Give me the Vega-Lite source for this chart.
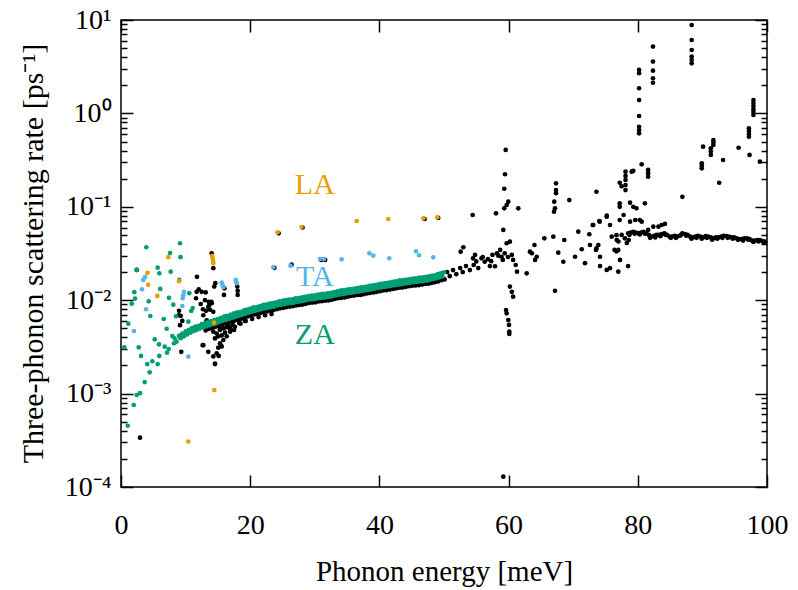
{
"$schema": "https://vega.github.io/schema/vega-lite/v6.json",
"width": 646, "height": 467,
"autosize": {"type": "none"},
"padding": {"left": 121, "top": 20, "right": 31, "bottom": 103},
"background": "white",
"config": {"view": {"stroke": "#000", "strokeWidth": 1.5}, "font": "Liberation Serif"},
"datasets": {
"pts": [
{"e":2.43,"r":0.0211,"b":"k"},{"e":2.94,"r":0.000337,"b":"k"},{"e":11.76,"r":0.0178,"b":"k"},{"e":12.03,"r":0.0131,"b":"k"},{"e":11.72,"r":0.0123,"b":"k"},{"e":13.11,"r":0.0121,"b":"k"},{"e":11.61,"r":0.0105,"b":"k"},{"e":12.34,"r":0.0091,"b":"k"},{"e":13.58,"r":0.0096,"b":"k"},{"e":13.98,"r":0.0096,"b":"k"},{"e":13.67,"r":0.0089,"b":"k"},{"e":8.98,"r":0.0077,"b":"k"},{"e":8.93,"r":0.0069,"b":"k"},{"e":9.24,"r":0.0068,"b":"k"},{"e":12.69,"r":0.008,"b":"k"},{"e":13.16,"r":0.0077,"b":"k"},{"e":13.78,"r":0.0079,"b":"k"},{"e":9.49,"r":0.006,"b":"k"},{"e":9.13,"r":0.0054,"b":"k"},{"e":14.04,"r":0.0318,"b":"k"},{"e":14.29,"r":0.022,"b":"k"},{"e":14.6,"r":0.0152,"b":"k"},{"e":14.44,"r":0.014,"b":"k"},{"e":16.0,"r":0.0134,"b":"k"},{"e":15.94,"r":0.0114,"b":"k"},{"e":18.0,"r":0.014,"b":"k"},{"e":18.06,"r":0.0126,"b":"k"},{"e":18.06,"r":0.0114,"b":"k"},{"e":9.33,"r":0.0028,"b":"k"},{"e":12.65,"r":0.0033,"b":"k"},{"e":13.51,"r":0.0028,"b":"k"},{"e":14.55,"r":0.00207,"b":"k"},{"e":15.12,"r":0.00253,"b":"k"},
{"e":12.49,"r":0.0123,"b":"k"},{"e":13.0,"r":0.01,"b":"k"},{"e":13.51,"r":0.0085,"b":"k"},{"e":14.04,"r":0.0093,"b":"k"},{"e":14.29,"r":0.0075,"b":"k"},{"e":12.74,"r":0.0069,"b":"k"},{"e":13.27,"r":0.0061,"b":"k"},{"e":13.78,"r":0.0054,"b":"k"},{"e":14.29,"r":0.0046,"b":"k"},{"e":14.81,"r":0.0044,"b":"k"},{"e":15.33,"r":0.0048,"b":"k"},{"e":15.84,"r":0.005,"b":"k"},{"e":16.61,"r":0.0054,"b":"k"},{"e":17.38,"r":0.0059,"b":"k"},{"e":18.16,"r":0.0061,"b":"k"},{"e":14.55,"r":0.0039,"b":"k"},{"e":15.06,"r":0.0041,"b":"k"},{"e":15.59,"r":0.0042,"b":"k"},{"e":16.1,"r":0.0045,"b":"k"},{"e":15.33,"r":0.00345,"b":"k"},{"e":15.84,"r":0.00375,"b":"k"},{"e":16.36,"r":0.0041,"b":"k"},{"e":15.06,"r":0.0031,"b":"k"},{"e":15.59,"r":0.0032,"b":"k"},{"e":14.81,"r":0.0027,"b":"k"},{"e":14.29,"r":0.0025,"b":"k"},{"e":14.55,"r":0.0021,"b":"k"},{"e":12.74,"r":0.0033,"b":"k"},{"e":14.81,"r":0.0054,"b":"k"},{"e":16.87,"r":0.005,"b":"k"},{"e":17.65,"r":0.0052,"b":"k"},{"e":16.9,"r":0.0046,"b":"k"},{"e":17.5,"r":0.0048,"b":"k"},{"e":18.5,"r":0.0056,"b":"k"},{"e":19.2,"r":0.006,"b":"k"},
{"e":24.4,"r":0.052,"b":"k"},{"e":28.1,"r":0.06,"b":"k"},{"e":47.0,"r":0.074,"b":"k"},{"e":49.1,"r":0.076,"b":"k"},{"e":23.75,"r":0.0222,"b":"k"},{"e":26.4,"r":0.024,"b":"k"},{"e":31.0,"r":0.027,"b":"k"},{"e":31.6,"r":0.027,"b":"k"},
{"e":13.1,"r":0.00475,"b":"k"},{"e":13.6,"r":0.00493,"b":"k"},{"e":14.1,"r":0.00502,"b":"k"},{"e":14.6,"r":0.00519,"b":"k"},{"e":15.1,"r":0.00528,"b":"k"},{"e":15.6,"r":0.00546,"b":"k"},{"e":16.1,"r":0.00563,"b":"k"},{"e":16.6,"r":0.00572,"b":"k"},{"e":17.1,"r":0.0059,"b":"k"},{"e":17.6,"r":0.00607,"b":"k"},{"e":18.1,"r":0.00625,"b":"k"},{"e":18.6,"r":0.00634,"b":"k"},{"e":19.1,"r":0.00651,"b":"k"},{"e":19.6,"r":0.00669,"b":"k"},{"e":20.1,"r":0.00686,"b":"k"},{"e":20.6,"r":0.00704,"b":"k"},{"e":21.1,"r":0.00713,"b":"k"},{"e":21.6,"r":0.0073,"b":"k"},{"e":22.1,"r":0.00748,"b":"k"},{"e":22.6,"r":0.00757,"b":"k"},{"e":23.1,"r":0.00774,"b":"k"},{"e":23.6,"r":0.00783,"b":"k"},{"e":24.1,"r":0.00801,"b":"k"},{"e":24.6,"r":0.00818,"b":"k"},{"e":25.1,"r":0.00827,"b":"k"},{"e":25.6,"r":0.00845,"b":"k"},{"e":26.1,"r":0.00854,"b":"k"},{"e":26.6,"r":0.00862,"b":"k"},{"e":27.1,"r":0.0088,"b":"k"},{"e":27.6,"r":0.00889,"b":"k"},{"e":28.1,"r":0.00898,"b":"k"},{"e":28.6,"r":0.00915,"b":"k"},{"e":29.1,"r":0.00933,"b":"k"},{"e":29.6,"r":0.00942,"b":"k"},{"e":30.1,"r":0.0095,"b":"k"},{"e":30.6,"r":0.00968,"b":"k"},{"e":31.1,"r":0.00977,"b":"k"},{"e":31.6,"r":0.00986,"b":"k"},{"e":32.1,"r":0.00994,"b":"k"},{"e":32.6,"r":0.0101,"b":"k"},{"e":33.1,"r":0.0103,"b":"k"},{"e":33.6,"r":0.0105,"b":"k"},{"e":34.1,"r":0.0106,"b":"k"},{"e":34.6,"r":0.0107,"b":"k"},{"e":35.1,"r":0.0109,"b":"k"},{"e":35.6,"r":0.0111,"b":"k"},{"e":36.1,"r":0.0112,"b":"k"},{"e":36.6,"r":0.0114,"b":"k"},{"e":37.1,"r":0.0114,"b":"k"},{"e":37.6,"r":0.0116,"b":"k"},{"e":38.1,"r":0.0118,"b":"k"},{"e":38.6,"r":0.012,"b":"k"},{"e":39.1,"r":0.0121,"b":"k"},{"e":39.6,"r":0.0123,"b":"k"},{"e":40.1,"r":0.0125,"b":"k"},{"e":40.6,"r":0.0127,"b":"k"},{"e":41.1,"r":0.0128,"b":"k"},{"e":41.6,"r":0.013,"b":"k"},{"e":42.1,"r":0.0132,"b":"k"},{"e":42.6,"r":0.0134,"b":"k"},{"e":43.1,"r":0.0136,"b":"k"},{"e":43.6,"r":0.0137,"b":"k"},{"e":44.1,"r":0.0139,"b":"k"},{"e":44.6,"r":0.0141,"b":"k"},{"e":45.1,"r":0.0143,"b":"k"},{"e":45.6,"r":0.0144,"b":"k"},{"e":46.1,"r":0.0145,"b":"k"},{"e":46.6,"r":0.0147,"b":"k"},{"e":47.1,"r":0.0149,"b":"k"},{"e":47.6,"r":0.015,"b":"k"},{"e":48.1,"r":0.0153,"b":"k"},{"e":48.6,"r":0.0156,"b":"k"},{"e":49.1,"r":0.0159,"b":"k"},{"e":49.6,"r":0.0164,"b":"k"},{"e":50.1,"r":0.0167,"b":"k"},
{"e":15.3,"r":0.0049,"b":"k"},{"e":16.3,"r":0.0051,"b":"k"},{"e":17.3,"r":0.0054,"b":"k"},{"e":18.3,"r":0.0057,"b":"k"},{"e":19.3,"r":0.006,"b":"k"},{"e":20.3,"r":0.0063,"b":"k"},{"e":21.3,"r":0.0066,"b":"k"},{"e":22.3,"r":0.0069,"b":"k"},{"e":23.3,"r":0.0071,"b":"k"},
{"e":50.5,"r":0.02,"b":"k"},{"e":50.9,"r":0.0181,"b":"k"},{"e":51.4,"r":0.021,"b":"k"},{"e":51.9,"r":0.019,"b":"k"},{"e":52.5,"r":0.0221,"b":"k"},{"e":52.9,"r":0.02,"b":"k"},{"e":53.4,"r":0.0232,"b":"k"},{"e":54.0,"r":0.021,"b":"k"},{"e":54.6,"r":0.0238,"b":"k"},{"e":55.3,"r":0.0221,"b":"k"},{"e":55.8,"r":0.0281,"b":"k"},{"e":56.3,"r":0.0258,"b":"k"},{"e":57.1,"r":0.0232,"b":"k"},{"e":57.5,"r":0.0305,"b":"k"},{"e":58.2,"r":0.0318,"b":"k"},{"e":58.7,"r":0.0345,"b":"k"},{"e":58.9,"r":0.0292,"b":"k"},{"e":59.4,"r":0.0318,"b":"k"},{"e":59.7,"r":0.0407,"b":"k"},{"e":60.2,"r":0.0423,"b":"k"},{"e":60.5,"r":0.0305,"b":"k"},{"e":60.7,"r":0.027,"b":"k"},{"e":61.1,"r":0.0238,"b":"k"},{"e":61.3,"r":0.0202,"b":"k"},{"e":57.9,"r":0.0231,"b":"k"},{"e":54.8,"r":0.0305,"b":"k"},{"e":54.5,"r":0.0281,"b":"k"},{"e":52.99,"r":0.0369,"b":"k"},{"e":52.58,"r":0.0331,"b":"k"},{"e":55.0,"r":0.026,"b":"k"},{"e":56.0,"r":0.029,"b":"k"},{"e":56.8,"r":0.0275,"b":"k"},{"e":57.3,"r":0.0262,"b":"k"},{"e":58.4,"r":0.03,"b":"k"},{"e":59.1,"r":0.027,"b":"k"},{"e":59.9,"r":0.029,"b":"k"},
{"e":59.55,"r":0.406,"b":"k"},{"e":59.44,"r":0.223,"b":"k"},{"e":59.33,"r":0.156,"b":"k"},{"e":59.95,"r":0.1135,"b":"k"},{"e":59.7,"r":0.1045,"b":"k"},{"e":59.33,"r":0.0964,"b":"k"},{"e":61.5,"r":0.0964,"b":"k"},{"e":58.05,"r":0.0852,"b":"k"},{"e":54.44,"r":0.0817,"b":"k"},{"e":59.18,"r":0.0565,"b":"k"},
{"e":60.2,"r":0.014,"b":"k"},{"e":60.5,"r":0.0123,"b":"k"},{"e":60.7,"r":0.0109,"b":"k"},{"e":59.6,"r":0.00785,"b":"k"},{"e":59.7,"r":0.00724,"b":"k"},{"e":59.95,"r":0.00614,"b":"k"},{"e":60.06,"r":0.00543,"b":"k"},{"e":60.11,"r":0.0046,"b":"k"},{"e":60.11,"r":0.00435,"b":"k"},{"e":59.18,"r":0.000129,"b":"k"},
{"e":62.8,"r":0.0194,"b":"k"},{"e":63.6,"r":0.0318,"b":"k"},{"e":64.35,"r":0.0292,"b":"k"},{"e":64.1,"r":0.027,"b":"k"},{"e":64.0,"r":0.039,"b":"k"},{"e":63.3,"r":0.0331,"b":"k"},{"e":65.53,"r":0.046,"b":"k"},{"e":66.92,"r":0.0479,"b":"k"},{"e":67.18,"r":0.0126,"b":"k"},
{"e":67.34,"r":0.1785,"b":"k"},{"e":67.34,"r":0.151,"b":"k"},{"e":67.34,"r":0.14,"b":"k"},{"e":67.07,"r":0.1135,"b":"k"},{"e":67.18,"r":0.0964,"b":"k"},{"e":67.03,"r":0.0886,"b":"k"},{"e":69.4,"r":0.118,"b":"k"},
{"e":68.62,"r":0.0441,"b":"k"},{"e":67.69,"r":0.0323,"b":"k"},{"e":68.47,"r":0.0258,"b":"k"},{"e":70.28,"r":0.0292,"b":"k"},{"e":70.79,"r":0.0541,"b":"k"},{"e":71.32,"r":0.0351,"b":"k"},{"e":71.83,"r":0.0249,"b":"k"},{"e":72.49,"r":0.0508,"b":"k"},{"e":73.02,"r":0.0638,"b":"k"},{"e":73.53,"r":0.0345,"b":"k"},{"e":74.04,"r":0.0705,"b":"k"},{"e":73.89,"r":0.039,"b":"k"},{"e":74.15,"r":0.0292,"b":"k"},{"e":74.15,"r":0.0232,"b":"k"},{"e":75.19,"r":0.0783,"b":"k"},{"e":75.7,"r":0.0638,"b":"k"},{"e":75.19,"r":0.0211,"b":"k"},{"e":75.7,"r":0.022,"b":"k"},{"e":75.96,"r":0.0479,"b":"k"},{"e":76.73,"r":0.0441,"b":"k"},{"e":76.98,"r":0.0345,"b":"k"},{"e":77.24,"r":0.027,"b":"k"},{"e":76.98,"r":0.0202,"b":"k"},{"e":72.6,"r":0.039,"b":"k"},{"e":73.6,"r":0.036,"b":"k"},{"e":78.5,"r":0.0232,"b":"k"},{"e":76.4,"r":0.0345,"b":"k"},{"e":76.7,"r":0.0333,"b":"k"},{"e":76.7,"r":0.0497,"b":"k"},{"e":77.0,"r":0.0425,"b":"k"},{"e":73.6,"r":0.145,"b":"k"},{"e":73.1,"r":0.0638,"b":"k"},{"e":74.1,"r":0.0693,"b":"k"},{"e":75.2,"r":0.0803,"b":"k"},{"e":77.2,"r":0.0722,"b":"k"},{"e":77.8,"r":0.0817,"b":"k"},
{"e":77.2,"r":0.109,"b":"k"},{"e":77.2,"r":0.1,"b":"k"},{"e":77.2,"r":0.181,"b":"k"},{"e":77.5,"r":0.166,"b":"k"},{"e":78.1,"r":0.238,"b":"k"},{"e":78.1,"r":0.214,"b":"k"},{"e":78.1,"r":0.194,"b":"k"},{"e":78.1,"r":0.171,"b":"k"},{"e":78.1,"r":0.151,"b":"k"},{"e":78.8,"r":0.1107,"b":"k"},{"e":79.3,"r":0.1,"b":"k"},{"e":79.8,"r":0.0964,"b":"k"},{"e":81.1,"r":0.109,"b":"k"},{"e":79.05,"r":0.238,"b":"k"},{"e":79.3,"r":0.243,"b":"k"},{"e":80.6,"r":0.285,"b":"k"},{"e":81.6,"r":0.248,"b":"k"},{"e":81.6,"r":0.228,"b":"k"},{"e":81.6,"r":0.21,"b":"k"},
{"e":78.8,"r":0.0693,"b":"k"},{"e":79.6,"r":0.0722,"b":"k"},{"e":80.3,"r":0.0722,"b":"k"},{"e":80.6,"r":0.0693,"b":"k"},{"e":81.6,"r":0.0565,"b":"k"},{"e":82.4,"r":0.0613,"b":"k"},{"e":83.2,"r":0.0613,"b":"k"},{"e":83.7,"r":0.0638,"b":"k"},{"e":84.2,"r":0.0655,"b":"k"},
{"e":80.2,"r":2.92,"b":"k"},{"e":80.2,"r":2.69,"b":"k"},{"e":80.2,"r":1.86,"b":"k"},{"e":80.2,"r":1.39,"b":"k"},{"e":80.2,"r":0.938,"b":"k"},{"e":80.2,"r":0.72,"b":"k"},{"e":80.2,"r":0.664,"b":"k"},{"e":80.2,"r":0.612,"b":"k"},
{"e":82.35,"r":5.19,"b":"k"},{"e":82.35,"r":3.59,"b":"k"},{"e":82.35,"r":2.87,"b":"k"},{"e":82.35,"r":2.38,"b":"k"},{"e":82.35,"r":2.13,"b":"k"},
{"e":88.34,"r":8.84,"b":"k"},{"e":88.34,"r":6.11,"b":"k"},{"e":88.34,"r":4.77,"b":"k"},{"e":88.34,"r":4.05,"b":"k"},{"e":88.34,"r":3.73,"b":"k"},{"e":88.34,"r":3.44,"b":"k"},
{"e":97.9,"r":1.39,"b":"k"},{"e":97.9,"r":1.29,"b":"k"},{"e":97.9,"r":1.2,"b":"k"},{"e":97.9,"r":1.11,"b":"k"},{"e":97.9,"r":1.035,"b":"k"},{"e":97.9,"r":0.961,"b":"k"},
{"e":97.2,"r":0.693,"b":"k"},{"e":97.2,"r":0.648,"b":"k"},{"e":97.2,"r":0.602,"b":"k"},{"e":97.2,"r":0.563,"b":"k"},
{"e":91.7,"r":0.519,"b":"k"},{"e":91.7,"r":0.488,"b":"k"},{"e":91.7,"r":0.459,"b":"k"},{"e":90.1,"r":0.44,"b":"k"},{"e":91.3,"r":0.423,"b":"k"},{"e":91.3,"r":0.391,"b":"k"},{"e":91.3,"r":0.359,"b":"k"},{"e":95.6,"r":0.429,"b":"k"},{"e":97.3,"r":0.359,"b":"k"},{"e":98.9,"r":0.304,"b":"k"},{"e":93.2,"r":0.317,"b":"k"},{"e":89.9,"r":0.292,"b":"k"},{"e":89.9,"r":0.275,"b":"k"},{"e":89.9,"r":0.258,"b":"k"},{"e":92.6,"r":0.181,"b":"k"},{"e":86.9,"r":0.128,"b":"k"},
{"e":77.5,"r":0.05,"b":"k"},{"e":78.0,"r":0.046,"b":"k"},{"e":78.3,"r":0.041,"b":"k"},{"e":78.6,"r":0.044,"b":"k"},
{"e":78.5,"r":0.052,"b":"k"},{"e":78.9,"r":0.053,"b":"k"},{"e":79.3,"r":0.054,"b":"k"},{"e":79.7,"r":0.053,"b":"k"},{"e":80.1,"r":0.052,"b":"k"},{"e":80.5,"r":0.053,"b":"k"},{"e":80.9,"r":0.054,"b":"k"},{"e":81.3,"r":0.052,"b":"k"},{"e":81.7,"r":0.05,"b":"k"},{"e":82.1,"r":0.048,"b":"k"},{"e":82.5,"r":0.049,"b":"k"},{"e":82.9,"r":0.05,"b":"k"},{"e":83.3,"r":0.05,"b":"k"},{"e":83.7,"r":0.051,"b":"k"},{"e":84.1,"r":0.052,"b":"k"},{"e":84.5,"r":0.05,"b":"k"},{"e":84.9,"r":0.048,"b":"k"},{"e":85.3,"r":0.048,"b":"k"},{"e":85.7,"r":0.049,"b":"k"},{"e":86.1,"r":0.048,"b":"k"},{"e":86.5,"r":0.049,"b":"k"},{"e":86.9,"r":0.052,"b":"k"},{"e":87.3,"r":0.051,"b":"k"},{"e":87.7,"r":0.05,"b":"k"},{"e":88.1,"r":0.048,"b":"k"},{"e":88.5,"r":0.047,"b":"k"},{"e":88.9,"r":0.048,"b":"k"},{"e":89.3,"r":0.049,"b":"k"},{"e":89.7,"r":0.048,"b":"k"},{"e":90.1,"r":0.047,"b":"k"},{"e":90.5,"r":0.0487,"b":"k"},{"e":90.9,"r":0.048,"b":"k"},{"e":91.3,"r":0.047,"b":"k"},{"e":91.7,"r":0.046,"b":"k"},{"e":92.1,"r":0.047,"b":"k"},{"e":92.5,"r":0.047,"b":"k"},{"e":92.9,"r":0.048,"b":"k"},{"e":93.3,"r":0.049,"b":"k"},{"e":93.7,"r":0.0487,"b":"k"},{"e":94.1,"r":0.048,"b":"k"},{"e":94.5,"r":0.047,"b":"k"},{"e":94.9,"r":0.047,"b":"k"},{"e":95.3,"r":0.046,"b":"k"},{"e":95.7,"r":0.045,"b":"k"},{"e":96.1,"r":0.045,"b":"k"},{"e":96.5,"r":0.046,"b":"k"},{"e":96.9,"r":0.046,"b":"k"},{"e":97.3,"r":0.045,"b":"k"},{"e":97.7,"r":0.0434,"b":"k"},{"e":98.1,"r":0.0434,"b":"k"},{"e":98.5,"r":0.044,"b":"k"},{"e":98.9,"r":0.0441,"b":"k"},{"e":99.3,"r":0.043,"b":"k"},{"e":99.7,"r":0.0423,"b":"k"},
{"e":78.7,"r":0.05,"b":"k"},{"e":79.5,"r":0.0515,"b":"k"},{"e":80.3,"r":0.0505,"b":"k"},{"e":81.1,"r":0.0515,"b":"k"},{"e":81.9,"r":0.0465,"b":"k"},{"e":82.7,"r":0.047,"b":"k"},{"e":83.5,"r":0.0485,"b":"k"},{"e":84.3,"r":0.05,"b":"k"},{"e":85.1,"r":0.0465,"b":"k"},{"e":85.9,"r":0.0465,"b":"k"},{"e":86.7,"r":0.05,"b":"k"},{"e":87.5,"r":0.049,"b":"k"},{"e":88.3,"r":0.0455,"b":"k"},{"e":89.1,"r":0.0465,"b":"k"},{"e":89.9,"r":0.0455,"b":"k"},{"e":90.7,"r":0.0465,"b":"k"},{"e":91.5,"r":0.0445,"b":"k"},{"e":92.3,"r":0.0455,"b":"k"},{"e":93.1,"r":0.0465,"b":"k"},{"e":93.9,"r":0.0465,"b":"k"},{"e":94.7,"r":0.0455,"b":"k"},{"e":95.5,"r":0.0445,"b":"k"},{"e":96.3,"r":0.0435,"b":"k"},{"e":97.1,"r":0.0445,"b":"k"},{"e":97.9,"r":0.042,"b":"k"},{"e":98.7,"r":0.0425,"b":"k"},{"e":99.5,"r":0.0415,"b":"k"},
{"e":3.92,"r":0.0369,"b":"ZA"},{"e":9.13,"r":0.0407,"b":"ZA"},{"e":7.59,"r":0.032,"b":"ZA"},{"e":9.21,"r":0.0289,"b":"ZA"},{"e":5.68,"r":0.0223,"b":"ZA"},{"e":5.93,"r":0.0194,"b":"ZA"},{"e":7.69,"r":0.0202,"b":"ZA"},{"e":9.02,"r":0.0165,"b":"ZA"},{"e":2.48,"r":0.0211,"b":"ZA"},{"e":2.06,"r":0.0122,"b":"ZA"},{"e":6.08,"r":0.0132,"b":"ZA"},{"e":2.17,"r":0.0104,"b":"ZA"},{"e":1.66,"r":0.00917,"b":"ZA"},{"e":4.29,"r":0.00973,"b":"ZA"},{"e":7.43,"r":0.0106,"b":"ZA"},{"e":10.57,"r":0.0119,"b":"ZA"},{"e":8.1,"r":0.00895,"b":"ZA"},{"e":11.1,"r":0.00825,"b":"ZA"},{"e":10.88,"r":0.00766,"b":"ZA"},{"e":4.54,"r":0.00677,"b":"ZA"},{"e":6.61,"r":0.00629,"b":"ZA"},{"e":8.51,"r":0.00672,"b":"ZA"},{"e":1.13,"r":0.0056,"b":"ZA"},{"e":7.07,"r":0.00495,"b":"ZA"},{"e":10.42,"r":0.00589,"b":"ZA"},{"e":0.51,"r":0.00313,"b":"ZA"},{"e":2.74,"r":0.00313,"b":"ZA"},{"e":5.22,"r":0.00381,"b":"ZA"},{"e":5.88,"r":0.00337,"b":"ZA"},{"e":6.76,"r":0.00318,"b":"ZA"},{"e":7.38,"r":0.003,"b":"ZA"},{"e":7.94,"r":0.00414,"b":"ZA"},{"e":8.2,"r":0.00345,"b":"ZA"},{"e":3.1,"r":0.00253,"b":"ZA"},{"e":7.12,"r":0.00274,"b":"ZA"},{"e":4.07,"r":0.00207,"b":"ZA"},{"e":4.85,"r":0.00222,"b":"ZA"},{"e":5.93,"r":0.00253,"b":"ZA"},{"e":5.68,"r":0.00207,"b":"ZA"},{"e":4.44,"r":0.00169,"b":"ZA"},{"e":3.67,"r":0.00133,"b":"ZA"},{"e":2.43,"r":0.000966,"b":"ZA"},{"e":2.94,"r":0.00101,"b":"ZA"},{"e":1.97,"r":0.000755,"b":"ZA"},{"e":1.04,"r":0.000453,"b":"ZA"},{"e":8.6,"r":0.0036,"b":"ZA"},{"e":8.3,"r":0.0039,"b":"ZA"},
{"e":9.0,"r":0.00418,"b":"ZA"},{"e":9.5,"r":0.00439,"b":"ZA"},{"e":10.0,"r":0.0046,"b":"ZA"},{"e":10.5,"r":0.00481,"b":"ZA"},{"e":11.0,"r":0.00502,"b":"ZA"},{"e":11.5,"r":0.00523,"b":"ZA"},{"e":12.0,"r":0.00533,"b":"ZA"},{"e":12.5,"r":0.00554,"b":"ZA"},{"e":13.0,"r":0.00564,"b":"ZA"},{"e":13.5,"r":0.00585,"b":"ZA"},{"e":14.0,"r":0.00596,"b":"ZA"},{"e":14.5,"r":0.00617,"b":"ZA"},{"e":15.0,"r":0.00627,"b":"ZA"},{"e":15.5,"r":0.00648,"b":"ZA"},{"e":16.0,"r":0.00669,"b":"ZA"},{"e":16.5,"r":0.00679,"b":"ZA"},{"e":17.0,"r":0.007,"b":"ZA"},{"e":17.5,"r":0.00721,"b":"ZA"},{"e":18.0,"r":0.00742,"b":"ZA"},{"e":18.5,"r":0.00752,"b":"ZA"},{"e":19.0,"r":0.00773,"b":"ZA"},{"e":19.5,"r":0.00794,"b":"ZA"},{"e":20.0,"r":0.00815,"b":"ZA"},{"e":20.5,"r":0.00836,"b":"ZA"},{"e":21.0,"r":0.00846,"b":"ZA"},{"e":21.5,"r":0.00867,"b":"ZA"},{"e":22.0,"r":0.00888,"b":"ZA"},{"e":22.5,"r":0.00899,"b":"ZA"},{"e":23.0,"r":0.0092,"b":"ZA"},{"e":23.5,"r":0.0093,"b":"ZA"},{"e":24.0,"r":0.00951,"b":"ZA"},{"e":24.5,"r":0.00972,"b":"ZA"},{"e":25.0,"r":0.00982,"b":"ZA"},{"e":25.5,"r":0.01003,"b":"ZA"},{"e":26.0,"r":0.01014,"b":"ZA"},{"e":26.5,"r":0.01024,"b":"ZA"},{"e":27.0,"r":0.01045,"b":"ZA"},{"e":27.5,"r":0.01055,"b":"ZA"},{"e":28.0,"r":0.01066,"b":"ZA"},{"e":28.5,"r":0.01087,"b":"ZA"},{"e":29.0,"r":0.01108,"b":"ZA"},{"e":29.5,"r":0.01118,"b":"ZA"},{"e":30.0,"r":0.01129,"b":"ZA"},{"e":30.5,"r":0.0115,"b":"ZA"},{"e":31.0,"r":0.0116,"b":"ZA"},{"e":31.5,"r":0.0117,"b":"ZA"},{"e":32.0,"r":0.01181,"b":"ZA"},{"e":32.5,"r":0.01202,"b":"ZA"},{"e":33.0,"r":0.01223,"b":"ZA"},{"e":33.5,"r":0.01244,"b":"ZA"},{"e":34.0,"r":0.01264,"b":"ZA"},{"e":34.5,"r":0.01275,"b":"ZA"},{"e":35.0,"r":0.01296,"b":"ZA"},{"e":35.5,"r":0.01317,"b":"ZA"},{"e":36.0,"r":0.01327,"b":"ZA"},{"e":36.5,"r":0.01348,"b":"ZA"},{"e":37.0,"r":0.01359,"b":"ZA"},{"e":37.5,"r":0.01379,"b":"ZA"},{"e":38.0,"r":0.014,"b":"ZA"},{"e":38.5,"r":0.01421,"b":"ZA"},{"e":39.0,"r":0.01442,"b":"ZA"},{"e":39.5,"r":0.01463,"b":"ZA"},{"e":40.0,"r":0.01484,"b":"ZA"},{"e":40.5,"r":0.01505,"b":"ZA"},{"e":41.0,"r":0.01526,"b":"ZA"},{"e":41.5,"r":0.01547,"b":"ZA"},{"e":42.0,"r":0.01568,"b":"ZA"},{"e":42.5,"r":0.01588,"b":"ZA"},{"e":43.0,"r":0.01609,"b":"ZA"},{"e":43.5,"r":0.0163,"b":"ZA"},{"e":44.0,"r":0.01651,"b":"ZA"},{"e":44.5,"r":0.01672,"b":"ZA"},{"e":45.0,"r":0.01693,"b":"ZA"},{"e":45.5,"r":0.01714,"b":"ZA"},{"e":46.0,"r":0.01724,"b":"ZA"},{"e":46.5,"r":0.01745,"b":"ZA"},{"e":47.0,"r":0.01766,"b":"ZA"},{"e":47.5,"r":0.01787,"b":"ZA"},{"e":48.0,"r":0.01818,"b":"ZA"},{"e":48.5,"r":0.0185,"b":"ZA"},{"e":49.0,"r":0.01891,"b":"ZA"},{"e":49.5,"r":0.01944,"b":"ZA"},{"e":50.0,"r":0.01986,"b":"ZA"},
{"e":9.25,"r":0.00392,"b":"ZA"},{"e":9.75,"r":0.00411,"b":"ZA"},{"e":10.25,"r":0.0043,"b":"ZA"},{"e":10.75,"r":0.00449,"b":"ZA"},{"e":11.25,"r":0.00468,"b":"ZA"},{"e":11.75,"r":0.00482,"b":"ZA"},{"e":12.25,"r":0.00497,"b":"ZA"},{"e":12.75,"r":0.00511,"b":"ZA"},{"e":13.25,"r":0.00525,"b":"ZA"},{"e":13.75,"r":0.0054,"b":"ZA"},{"e":14.25,"r":0.00554,"b":"ZA"},{"e":14.75,"r":0.00568,"b":"ZA"},{"e":15.25,"r":0.00583,"b":"ZA"},{"e":15.75,"r":0.00602,"b":"ZA"},{"e":16.25,"r":0.00616,"b":"ZA"},{"e":16.75,"r":0.0063,"b":"ZA"},{"e":17.25,"r":0.00649,"b":"ZA"},{"e":17.75,"r":0.00669,"b":"ZA"},{"e":18.25,"r":0.00683,"b":"ZA"},{"e":18.75,"r":0.00697,"b":"ZA"},{"e":19.25,"r":0.00716,"b":"ZA"},{"e":19.75,"r":0.00735,"b":"ZA"},{"e":20.25,"r":0.00754,"b":"ZA"},{"e":20.75,"r":0.00769,"b":"ZA"},{"e":21.25,"r":0.00783,"b":"ZA"},{"e":21.75,"r":0.00802,"b":"ZA"},{"e":22.25,"r":0.00817,"b":"ZA"},{"e":22.75,"r":0.00831,"b":"ZA"},{"e":23.25,"r":0.00845,"b":"ZA"},{"e":23.75,"r":0.0086,"b":"ZA"},{"e":24.25,"r":0.00879,"b":"ZA"},{"e":24.75,"r":0.00893,"b":"ZA"},{"e":25.25,"r":0.00907,"b":"ZA"},{"e":25.75,"r":0.00922,"b":"ZA"},{"e":26.25,"r":0.00931,"b":"ZA"},{"e":26.75,"r":0.00945,"b":"ZA"},{"e":27.25,"r":0.0096,"b":"ZA"},{"e":27.75,"r":0.00969,"b":"ZA"},{"e":28.25,"r":0.00984,"b":"ZA"},{"e":28.75,"r":0.01003,"b":"ZA"},{"e":29.25,"r":0.01017,"b":"ZA"},{"e":29.75,"r":0.01027,"b":"ZA"},{"e":30.25,"r":0.01041,"b":"ZA"},{"e":30.75,"r":0.01055,"b":"ZA"},{"e":31.25,"r":0.01065,"b":"ZA"},{"e":31.75,"r":0.01074,"b":"ZA"},{"e":32.25,"r":0.01089,"b":"ZA"},{"e":32.75,"r":0.01108,"b":"ZA"},{"e":33.25,"r":0.01127,"b":"ZA"},{"e":33.75,"r":0.01146,"b":"ZA"},{"e":34.25,"r":0.0116,"b":"ZA"},{"e":34.75,"r":0.01175,"b":"ZA"},{"e":35.25,"r":0.01194,"b":"ZA"},{"e":35.75,"r":0.01208,"b":"ZA"},{"e":36.25,"r":0.01222,"b":"ZA"},{"e":36.75,"r":0.01237,"b":"ZA"},{"e":37.25,"r":0.01251,"b":"ZA"},{"e":37.75,"r":0.0127,"b":"ZA"},{"e":38.25,"r":0.01289,"b":"ZA"},{"e":38.75,"r":0.01308,"b":"ZA"},{"e":39.25,"r":0.01327,"b":"ZA"},{"e":39.75,"r":0.01347,"b":"ZA"},{"e":40.25,"r":0.01366,"b":"ZA"},{"e":40.75,"r":0.01385,"b":"ZA"},{"e":41.25,"r":0.01404,"b":"ZA"},{"e":41.75,"r":0.01423,"b":"ZA"},{"e":42.25,"r":0.01442,"b":"ZA"},{"e":42.75,"r":0.01461,"b":"ZA"},{"e":43.25,"r":0.0148,"b":"ZA"},{"e":43.75,"r":0.01499,"b":"ZA"},{"e":44.25,"r":0.01518,"b":"ZA"},{"e":44.75,"r":0.01538,"b":"ZA"},{"e":45.25,"r":0.01557,"b":"ZA"},{"e":45.75,"r":0.01571,"b":"ZA"},{"e":46.25,"r":0.01585,"b":"ZA"},{"e":46.75,"r":0.01604,"b":"ZA"},{"e":47.25,"r":0.01624,"b":"ZA"},{"e":47.75,"r":0.01647,"b":"ZA"},{"e":48.25,"r":0.01676,"b":"ZA"},{"e":48.75,"r":0.01709,"b":"ZA"},{"e":49.25,"r":0.01752,"b":"ZA"},{"e":49.75,"r":0.01795,"b":"ZA"},
{"e":9.12,"r":0.004,"b":"ZA"},{"e":9.62,"r":0.00433,"b":"ZA"},{"e":10.12,"r":0.00462,"b":"ZA"},{"e":10.62,"r":0.00469,"b":"ZA"},{"e":11.12,"r":0.0047,"b":"ZA"},{"e":11.62,"r":0.0048,"b":"ZA"},{"e":12.12,"r":0.00505,"b":"ZA"},{"e":12.62,"r":0.0054,"b":"ZA"},{"e":13.12,"r":0.00567,"b":"ZA"},{"e":13.62,"r":0.00577,"b":"ZA"},{"e":14.12,"r":0.00564,"b":"ZA"},{"e":14.62,"r":0.00566,"b":"ZA"},{"e":15.12,"r":0.00588,"b":"ZA"},{"e":15.62,"r":0.00632,"b":"ZA"},{"e":16.12,"r":0.00672,"b":"ZA"},{"e":16.62,"r":0.0067,"b":"ZA"},{"e":17.12,"r":0.00663,"b":"ZA"},{"e":17.62,"r":0.00662,"b":"ZA"},{"e":18.12,"r":0.00696,"b":"ZA"},{"e":18.62,"r":0.00734,"b":"ZA"},{"e":19.12,"r":0.00777,"b":"ZA"},{"e":19.62,"r":0.00783,"b":"ZA"},{"e":20.12,"r":0.00772,"b":"ZA"},{"e":20.62,"r":0.00768,"b":"ZA"},{"e":21.12,"r":0.00794,"b":"ZA"},{"e":21.62,"r":0.00847,"b":"ZA"},{"e":22.12,"r":0.00893,"b":"ZA"},{"e":22.62,"r":0.00886,"b":"ZA"},{"e":23.12,"r":0.00871,"b":"ZA"},{"e":23.62,"r":0.00854,"b":"ZA"},{"e":24.12,"r":0.00892,"b":"ZA"},{"e":24.62,"r":0.00949,"b":"ZA"},{"e":25.12,"r":0.00987,"b":"ZA"},{"e":25.62,"r":0.00989,"b":"ZA"},{"e":26.12,"r":0.0096,"b":"ZA"},{"e":26.62,"r":0.00941,"b":"ZA"},{"e":27.12,"r":0.0098,"b":"ZA"},{"e":27.62,"r":0.0103,"b":"ZA"},{"e":28.12,"r":0.01071,"b":"ZA"},{"e":28.62,"r":0.01071,"b":"ZA"},{"e":29.12,"r":0.01049,"b":"ZA"},{"e":29.62,"r":0.01027,"b":"ZA"},{"e":30.12,"r":0.01058,"b":"ZA"},{"e":30.62,"r":0.01122,"b":"ZA"},{"e":31.12,"r":0.01166,"b":"ZA"},{"e":31.62,"r":0.01154,"b":"ZA"},{"e":32.12,"r":0.01119,"b":"ZA"},{"e":32.62,"r":0.01104,"b":"ZA"},{"e":33.12,"r":0.01147,"b":"ZA"},{"e":33.62,"r":0.01214,"b":"ZA"},{"e":34.12,"r":0.0127,"b":"ZA"},{"e":34.62,"r":0.01257,"b":"ZA"},{"e":35.12,"r":0.01228,"b":"ZA"},{"e":35.62,"r":0.0121,"b":"ZA"},{"e":36.12,"r":0.01245,"b":"ZA"},{"e":36.62,"r":0.01316,"b":"ZA"},{"e":37.12,"r":0.01365,"b":"ZA"},{"e":37.62,"r":0.0136,"b":"ZA"},{"e":38.12,"r":0.01327,"b":"ZA"},{"e":38.62,"r":0.01306,"b":"ZA"},{"e":39.12,"r":0.01352,"b":"ZA"},{"e":39.62,"r":0.01428,"b":"ZA"},{"e":40.12,"r":0.01491,"b":"ZA"},{"e":40.62,"r":0.01483,"b":"ZA"},{"e":41.12,"r":0.01445,"b":"ZA"},{"e":41.62,"r":0.01421,"b":"ZA"},{"e":42.12,"r":0.0147,"b":"ZA"},{"e":42.62,"r":0.0155,"b":"ZA"},{"e":43.12,"r":0.01617,"b":"ZA"},{"e":43.62,"r":0.01607,"b":"ZA"},{"e":44.12,"r":0.01564,"b":"ZA"},{"e":44.62,"r":0.01536,"b":"ZA"},{"e":45.12,"r":0.01588,"b":"ZA"},{"e":45.62,"r":0.01673,"b":"ZA"},{"e":46.12,"r":0.01733,"b":"ZA"},{"e":46.62,"r":0.0172,"b":"ZA"},{"e":47.12,"r":0.01673,"b":"ZA"},{"e":47.62,"r":0.01642,"b":"ZA"},{"e":48.12,"r":0.01705,"b":"ZA"},{"e":48.62,"r":0.01805,"b":"ZA"},{"e":49.12,"r":0.019,"b":"ZA"},{"e":49.62,"r":0.01916,"b":"ZA"},
{"e":3.72,"r":0.0177,"b":"TA"},{"e":3.45,"r":0.0165,"b":"TA"},{"e":3.25,"r":0.0131,"b":"TA"},{"e":3.87,"r":0.008,"b":"TA"},{"e":2.01,"r":0.00468,"b":"TA"},{"e":9.75,"r":0.0123,"b":"TA"},{"e":9.64,"r":0.0113,"b":"TA"},{"e":9.55,"r":0.0105,"b":"TA"},{"e":9.49,"r":0.00867,"b":"TA"},{"e":10.42,"r":0.00249,"b":"TA"},{"e":15.59,"r":0.0154,"b":"TA"},{"e":15.71,"r":0.0146,"b":"TA"},{"e":15.84,"r":0.0138,"b":"TA"},{"e":17.76,"r":0.0165,"b":"TA"},{"e":17.83,"r":0.0158,"b":"TA"},{"e":17.91,"r":0.0152,"b":"TA"},{"e":23.58,"r":0.0225,"b":"TA"},{"e":26.24,"r":0.0234,"b":"TA"},{"e":30.8,"r":0.0276,"b":"TA"},{"e":31.42,"r":0.0276,"b":"TA"},{"e":34.16,"r":0.0274,"b":"TA"},{"e":38.44,"r":0.0318,"b":"TA"},{"e":39.06,"r":0.03,"b":"TA"},{"e":41.53,"r":0.0281,"b":"TA"},{"e":45.67,"r":0.0334,"b":"TA"},{"e":46.13,"r":0.0303,"b":"TA"},{"e":48.34,"r":0.0288,"b":"TA"},
{"e":7.32,"r":0.0289,"b":"LA"},{"e":4.1,"r":0.0196,"b":"LA"},{"e":4.21,"r":0.0146,"b":"LA"},{"e":5.62,"r":0.0111,"b":"LA"},{"e":8.98,"r":0.016,"b":"LA"},{"e":14.13,"r":0.0298,"b":"LA"},{"e":14.19,"r":0.028,"b":"LA"},{"e":14.24,"r":0.0263,"b":"LA"},{"e":14.29,"r":0.0249,"b":"LA"},{"e":24.23,"r":0.0533,"b":"LA"},{"e":27.94,"r":0.0608,"b":"LA"},{"e":36.49,"r":0.0705,"b":"LA"},{"e":41.38,"r":0.074,"b":"LA"},{"e":46.8,"r":0.0753,"b":"LA"},{"e":48.96,"r":0.0772,"b":"LA"},{"e":14.4,"r":0.00574,"b":"LA"},{"e":14.44,"r":0.00109,"b":"LA"},{"e":10.42,"r":0.000307,"b":"LA"}
],
"lbl": [
{"e":30.0,"r":0.171,"t":"LA","b":"LA"},
{"e":30.0,"r":0.0177,"t":"TA","b":"TA"},
{"e":30.0,"r":0.00424,"t":"ZA","b":"ZA"}
]
},
"layer": [
{
"data": {"name": "pts"},
"mark": {"type": "circle", "size": 22, "opacity": 1},
"encoding": {
"x": {"field": "e", "type": "quantitative", "scale": {"domain": [0, 100], "nice": false, "zero": false},
 "axis": {"orient": "bottom", "values": [0, 20, 40, 60, 80, 100], "tickSize": -12, "tickColor": "#000", "tickWidth": 1.5, "domain": false, "grid": false,
  "labelFont": "Liberation Serif", "labelFontSize": 28, "labelColor": "#000", "labelPadding": 36, "labelFlush": false, "labelOverlap": false, "labelBound": false,
  "title": "Phonon energy [meV]", "titleFont": "Liberation Serif", "titleFontSize": 29, "titleFontWeight": "normal", "titleColor": "#000", "titleBaseline": "alphabetic", "titleY": 93}},
"y": {"field": "r", "type": "quantitative", "scale": {"type": "log", "domain": [0.0001, 10], "nice": false},
 "axis": {"orient": "left", "values": [0.0001,0.0002,0.0003,0.0004,0.0005,0.0006,0.0007,0.0008,0.0009,0.001,0.002,0.003,0.004,0.005,0.006,0.007,0.008,0.009,0.01,0.02,0.03,0.04,0.05,0.06,0.07,0.08,0.09,0.1,0.2,0.3,0.4,0.5,0.6,0.7,0.8,0.9,1,2,3,4,5,6,7,8,9,10],
  "tickSize": {"condition": {"test": "abs(log(datum.value)/LN10 - round(log(datum.value)/LN10)) < 0.001", "value": -12}, "value": -6},
  "tickColor": "#000", "tickWidth": 1.5, "domain": false, "grid": false,
  "labelExpr": "abs(log(datum.value)/LN10 - round(log(datum.value)/LN10)) > 0.001 ? '' : '10' + ['⁻⁴','⁻³','⁻²','⁻¹','⁰','¹'][round(log(datum.value)/LN10) + 4]",
  "labelFont": "Liberation Serif", "labelFontSize": 28, "labelColor": "#000", "labelPadding": 22, "labelFlush": false, "labelOverlap": false, "labelBound": false,
  "title": "Three-phonon scattering rate [ps⁻¹]", "titleFont": "Liberation Serif", "titleFontSize": 30, "titleFontWeight": "normal", "titleColor": "#000", "titleBaseline": "alphabetic", "titleX": -79, "titleY": 233}},
"color": {"field": "b", "type": "nominal", "scale": {"domain": ["k", "ZA", "TA", "LA"], "range": ["#000000", "#009E73", "#56B4E9", "#E69F00"]}, "legend": null}
}
},
{
"data": {"name": "lbl"},
"mark": {"type": "text", "font": "Liberation Serif", "fontSize": 30, "align": "center", "baseline": "middle"},
"encoding": {
"x": {"field": "e", "type": "quantitative", "axis": {"orient": "top", "values": [0, 20, 40, 60, 80, 100], "tickSize": -12, "tickColor": "#000", "tickWidth": 1.5, "domain": false, "grid": false, "labels": false, "title": null}},
"y": {"field": "r", "type": "quantitative", "axis": {"orient": "right", "values": [0.0001,0.0002,0.0003,0.0004,0.0005,0.0006,0.0007,0.0008,0.0009,0.001,0.002,0.003,0.004,0.005,0.006,0.007,0.008,0.009,0.01,0.02,0.03,0.04,0.05,0.06,0.07,0.08,0.09,0.1,0.2,0.3,0.4,0.5,0.6,0.7,0.8,0.9,1,2,3,4,5,6,7,8,9,10],
  "tickSize": {"condition": {"test": "abs(log(datum.value)/LN10 - round(log(datum.value)/LN10)) < 0.001", "value": -12}, "value": -6},
  "tickColor": "#000", "tickWidth": 1.5, "domain": false, "grid": false, "labels": false, "title": null}},
"text": {"field": "t"},
"color": {"field": "b", "type": "nominal", "legend": null}
}
}
],
"resolve": {"axis": {"x": "independent", "y": "independent"}}
}
